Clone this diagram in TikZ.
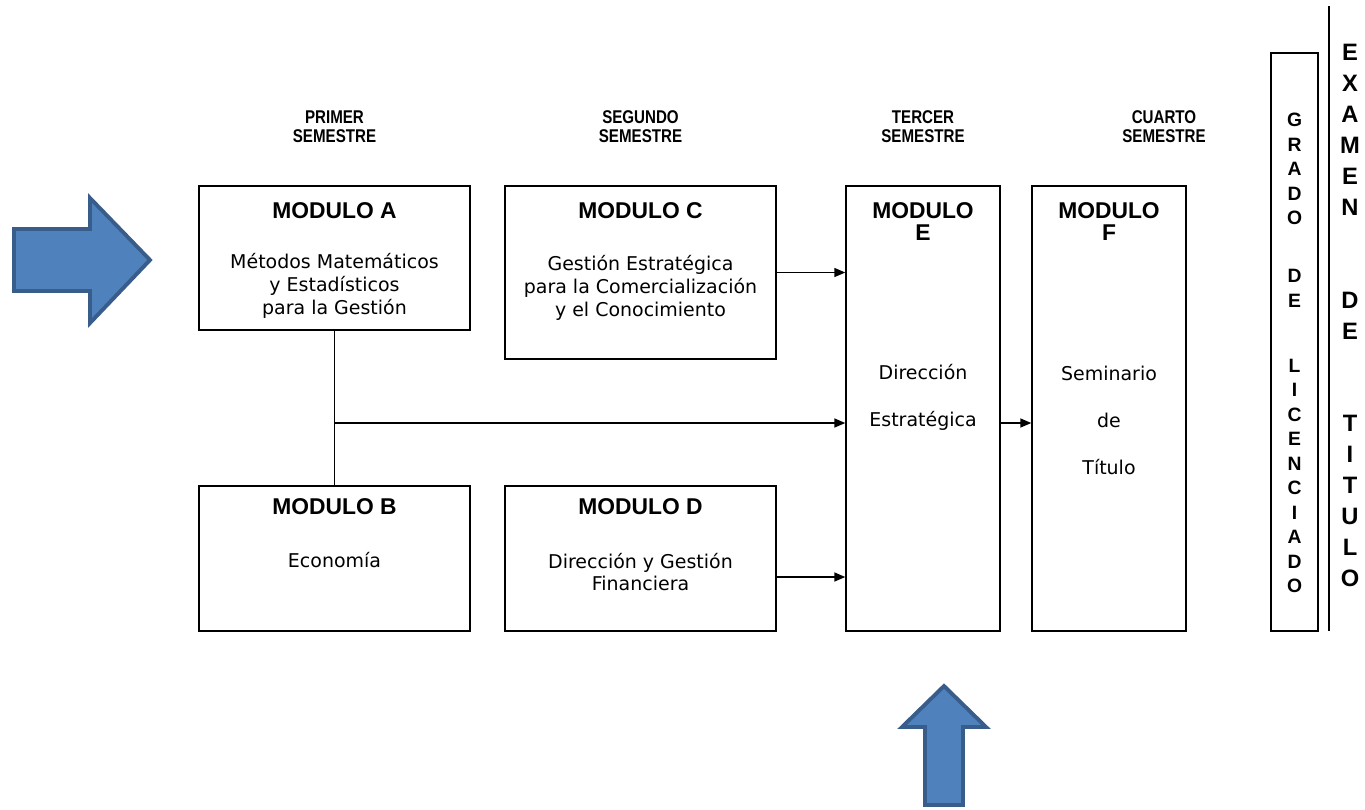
\documentclass[tikz,border=0pt]{standalone}
\usepackage{fontspec}
\usepackage{xcolor}
\usepackage{tikz}
\usetikzlibrary{arrows.meta, positioning, calc}
\newfontfamily\semfont[FakeStretch=0.82]{Liberation Sans}
\newfontfamily\modfont{Liberation Sans}
\newfontfamily\txtfont{DejaVu Sans}
\definecolor{arrowblue}{HTML}{4F81BD}
\definecolor{arrowedge}{HTML}{385D8A}

\begin{document}
\begin{tikzpicture}[
    x=0.02cm, y=-0.02cm,
    box/.style={draw, line width=0.8pt, inner sep=0pt},
    semester/.style={align=center, font=\semfont\bfseries\fontsize{10.5}{10.8}\selectfont},
    title/.style={align=center, font=\modfont\bfseries\fontsize{13}{12}\selectfont},
    body/.style={align=center, font=\txtfont\fontsize{10.8}{13}\selectfont},
    widebody/.style={align=center, font=\txtfont\fontsize{10.8}{26.7}\selectfont},
    arrow/.style={-{Triangle[length=2.2mm, width=1.8mm]}, line width=0.8pt},
    bigarrow/.style={fill=arrowblue, draw=arrowedge, line width=2.2pt, line join=miter}
]
    \useasboundingbox (0,0) rectangle (1365,809);

    % semester headers
    \node[semester] (sem1) at (334.5,127) {PRIMER\\SEMESTRE};
    \node[semester] (sem2) at (640.5,127) {SEGUNDO\\SEMESTRE};
    \node[semester] (sem3) at (923,127) {TERCER\\SEMESTRE};
    \node[semester] (sem4) at (1164,127) {CUARTO\\SEMESTRE};

    % module boxes
    \node[box, minimum width=5.42cm, minimum height=2.88cm] (ma) at (334.5,258) {};
    \node[box, minimum width=5.42cm, minimum height=2.9cm] (mb) at (334.5,558.5) {};
    \node[box, minimum width=5.42cm, minimum height=3.46cm] (mc) at (640.5,272.5) {};
    \node[box, minimum width=5.42cm, minimum height=2.9cm] (md) at (640.5,558.5) {};
    \node[box, minimum width=3.08cm, minimum height=8.9cm] (me) at (923,408.5) {};
    \node[box, minimum width=3.08cm, minimum height=8.9cm] (mf) at (1109,408.5) {};
    \node[box, minimum width=0.94cm, minimum height=11.56cm] (grado) at (1294.5,342) {};

    % module texts
    \node[title] (ta) at (334.5,211) {MODULO A};
    \node[body] (ba) at (334.5,286) {Métodos Matemáticos\\y Estadísticos\\para la Gestión};
    \node[title] (tb) at (334.5,507) {MODULO B};
    \node[body] (bb) at (334.5,560) {Economía};
    \node[title] (tc) at (640.5,211) {MODULO C};
    \node[body] (bc) at (640.5,288) {Gestión Estratégica\\para la Comercialización\\y el Conocimiento};
    \node[title] (td) at (640.5,507) {MODULO D};
    \node[body] (bd) at (640.5,572) {Dirección y Gestión\\Financiera};
    \node[title] (te) at (923,221.5) {MODULO\\E};
    \node[widebody] (be) at (923,397) {Dirección\\Estratégica};
    \node[title] (tf) at (1109,221.5) {MODULO\\F};
    \node[widebody] (bf) at (1109,420.5) {Seminario\\de\\Título};

    % vertical titles
    \node[align=center, font=\modfont\bfseries\fontsize{11}{13.95}\selectfont] (gradotxt) at (1294.5,353)
        {G\\R\\A\\D\\O\\[19pt]D\\E\\[23pt]L\\I\\C\\E\\N\\C\\I\\A\\D\\O};
    \node[align=center, font=\modfont\bfseries\fontsize{13.5}{17.6}\selectfont] (examen) at (1350,315.5)
        {E\\X\\A\\M\\E\\N\\[35.2pt]D\\E\\[35.2pt]T\\I\\T\\U\\L\\O};
    \draw[line width=0.8pt] (1329,6) -- (1329,631);

    % connectors
    \draw[line width=0.8pt] (ma) -- (mb);
    \coordinate (join) at (334.5,423);
    \coordinate (dout) at ([yshift=-0.37cm]md.east);
    \draw[arrow] (join) -- (join -| me.west);
    \draw[arrow] (mc.east) -- (mc.east -| me.west);
    \draw[arrow] (dout) -- (dout -| me.west);
    \draw[arrow] (join -| me.east) -- (join -| mf.west);

    % big blue arrows
    \draw[bigarrow] (14,229) -- (90,229) -- (90,198) -- (150,260) -- (90,323) -- (90,291) -- (14,291) -- cycle;
    \draw[bigarrow] (925,805) -- (925,727) -- (902,727) -- (944,686) -- (986,727) -- (963,727) -- (963,805) -- cycle;
\end{tikzpicture}
\end{document}
